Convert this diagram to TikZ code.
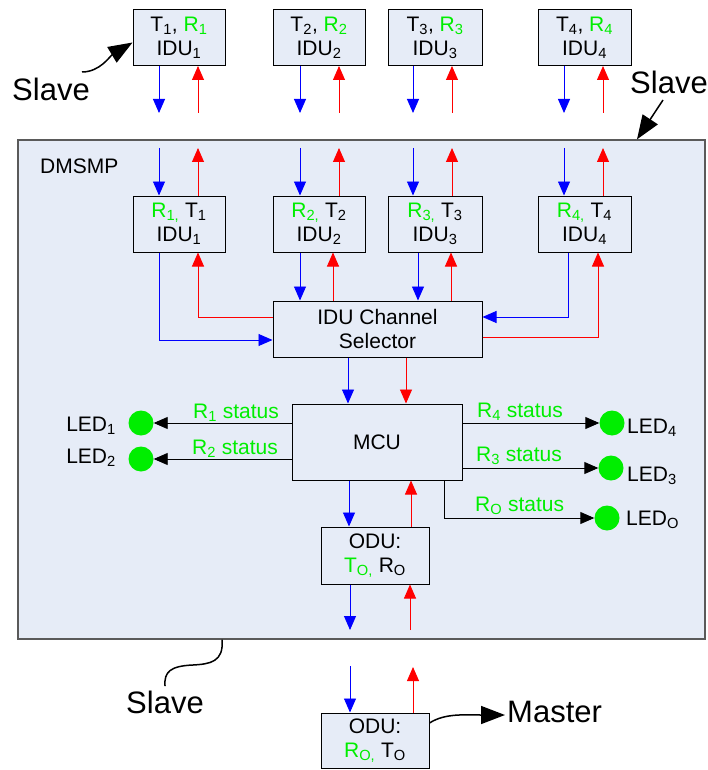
\documentclass[tikz,border=0pt]{standalone}
\usepackage{fontspec}
\setmainfont{Liberation Sans}
\usetikzlibrary{arrows.meta,calc}
\definecolor{boxfill}{RGB}{230,236,247}
\definecolor{ledgreen}{RGB}{0,238,0}
\definecolor{framegray}{RGB}{90,90,90}
\newcommand\sbs[1]{\textsubscript{#1}}
\newcommand\gr[1]{\textcolor{ledgreen}{#1}}
\begin{document}
\begin{tikzpicture}[x=1pt,y=-1pt,
  every node/.style={font=\fontsize{21}{24}\selectfont},
  box/.style={draw=black, line width=1pt, fill=boxfill, inner sep=0pt, align=center, minimum width=92pt, minimum height=56pt},
  arr/.style={-{Triangle[length=14pt,width=12pt]}},
  bigarr/.style={-{Triangle[length=24pt,width=18pt]}},
  conn/.style={line width=0.9pt},
  big/.style={font=\fontsize{31}{36}\selectfont, inner sep=0pt},
  led/.style={circle, fill=ledgreen, minimum size=25pt, inner sep=0pt},
  stat/.style={text=ledgreen, anchor=base west, inner sep=0pt},
  ledlab/.style={anchor=base west, inner sep=0pt}]
\useasboundingbox (0,0) rectangle (708,770);

% main frame
\node[draw=framegray, line width=1.3pt, fill=boxfill, minimum width=687pt, minimum height=499pt, inner sep=0pt] (dm) at (361.5,389.5) {};
\node[anchor=base west, inner sep=0pt] (dmlab) at (40,173) {DMSMP};

% top IDU boxes
\node[box] (t1) at (179,37.5) {T\sbs{1}, \gr{R\sbs{1}}\\IDU\sbs{1}};
\node[box] (t2) at (319,37.5) {T\sbs{2}, \gr{R\sbs{2}}\\IDU\sbs{2}};
\node[box, minimum width=94pt] (t3) at (435,37.5) {T\sbs{3}, \gr{R\sbs{3}}\\IDU\sbs{3}};
\node[box, minimum width=93pt] (t4) at (584.5,37.5) {T\sbs{4}, \gr{R\sbs{4}}\\IDU\sbs{4}};

% inner IDU boxes
\node[box] (i1) at (179,224) {\gr{R\sbs{1,}} T\sbs{1}\\IDU\sbs{1}};
\node[box] (i2) at (319,224) {\gr{R\sbs{2,}} T\sbs{2}\\IDU\sbs{2}};
\node[box, minimum width=94pt] (i3) at (435,224) {\gr{R\sbs{3,}} T\sbs{3}\\IDU\sbs{3}};
\node[box, minimum width=93pt] (i4) at (584.5,224) {\gr{R\sbs{4,}} T\sbs{4}\\IDU\sbs{4}};

% selector, MCU, ODUs
\node[box, minimum width=209pt] (sel) at (377.5,329) {IDU Channel\\Selector};
\node[box, minimum width=170pt, minimum height=76pt] (mcu) at (377,442) {MCU};
\node[box, minimum width=108pt, minimum height=57pt] (odu) at (375,555.5) {ODU:\\\gr{T\sbs{O,}} R\sbs{O}};
\node[box, minimum width=108pt, minimum height=55pt] (o2) at (375,740.5) {ODU:\\\gr{R\sbs{O,}} T\sbs{O}};

% arrows below top boxes
\foreach \n/\bx/\rx in {1/159/198, 2/300/339, 3/413/452, 4/564/603}{
  \coordinate (tb\n) at (\bx,113);
  \coordinate (tr\n) at (\rx,113);
  \draw[conn,blue,arr] (t\n.south -| tb\n) -- (tb\n);
  \draw[conn,red,arr] (tr\n) -- (t\n.south -| tr\n);
  \coordinate (ib\n) at (\bx,148);
  \coordinate (ir\n) at (\rx,148);
  \draw[conn,blue,arr] (ib\n) -- (ib\n |- i\n.north);
  \draw[conn,red,arr] (ir\n |- i\n.north) -- (ir\n);
}

% inner IDUs <-> selector
\coordinate (c1b) at (159,340);
\coordinate (c1r) at (198,317);
\draw[conn,blue,arr] (i1.south -| c1b) |- (sel.west |- c1b);
\draw[conn,red,arr] (sel.west |- c1r) -| (i1.south -| c1r);
\coordinate (c2b) at (300,0);
\coordinate (c2r) at (333,0);
\draw[conn,blue,arr] (i2.south -| c2b) -- (sel.north -| c2b);
\draw[conn,red,arr] (sel.north -| c2r) -- (i2.south -| c2r);
\coordinate (c3b) at (418,0);
\coordinate (c3r) at (451,0);
\draw[conn,blue,arr] (i3.south -| c3b) -- (sel.north -| c3b);
\draw[conn,red,arr] (sel.north -| c3r) -- (i3.south -| c3r);
\coordinate (c4b) at (568,317);
\coordinate (c4r) at (598,337);
\draw[conn,blue,arr] (i4.south -| c4b) |- (sel.east |- c4b);
\draw[conn,red,arr] (sel.east |- c4r) -| (i4.south -| c4r);

% selector -> MCU
\coordinate (m1) at (348,0);
\coordinate (m2) at (406,0);
\draw[conn,blue,arr] (sel.south -| m1) -- (mcu.north -| m1);
\draw[conn,red,arr] (sel.south -| m2) -- (mcu.north -| m2);

% MCU <-> ODU
\coordinate (m3) at (349,0);
\coordinate (m4) at (411,0);
\draw[conn,blue,arr] (mcu.south -| m3) -- (odu.north -| m3);
\draw[conn,red,arr] (odu.north -| m4) -- (mcu.south -| m4);

% ODU out of frame
\coordinate (ob) at (350,630);
\coordinate (or) at (410,630);
\draw[conn,blue,arr] (odu.south -| ob) -- (ob);
\draw[conn,red,arr] (or) -- (odu.south -| or);
\coordinate (pb) at (350,666);
\coordinate (pr) at (413,667);
\draw[conn,blue,arr] (pb) -- (o2.north -| pb);
\draw[conn,red,arr] (o2.north -| pr) -- (pr);

% LEDs
\node[led] (led1) at (141,423) {};
\node[led] (led2) at (141,459) {};
\node[led] (led4) at (612,423) {};
\node[led] (led3) at (611,468) {};
\node[led] (ledo) at (607,518) {};
\node[anchor=base east, inner sep=0pt] (l1) at (116,431) {LED\sbs{1}};
\node[anchor=base east, inner sep=0pt] (l2) at (116,463) {LED\sbs{2}};
\node[ledlab] (l4) at (627,433) {LED\sbs{4}};
\node[ledlab] (l3) at (627,481) {LED\sbs{3}};
\node[ledlab] (lo) at (626,525) {LED\sbs{O}};

\draw[conn,black,arr] (mcu.west |- led1) -- (led1);
\draw[conn,black,arr] (mcu.west |- led2) -- (led2);
\draw[conn,black,arr] (mcu.east |- led4) -- (led4);
\draw[conn,black,arr] (mcu.east |- led3) -- (led3);
\coordinate (ro) at (444,0);
\draw[conn,black,arr] (mcu.south -| ro) |- (ledo);

\node[stat] (s1) at (193,418) {R\sbs{1} status};
\node[stat] (s2) at (192,454) {R\sbs{2} status};
\node[stat] (s4) at (477,417) {R\sbs{4} status};
\node[stat] (s3) at (476,461) {R\sbs{3} status};
\node[stat] (so) at (475,511) {R\sbs{O} status};

% Slave / Master annotations
\node[big] (slave1) at (51,89) {Slave};
\coordinate (sa1) at (82,72);
\draw[line width=1.5pt,bigarr] (sa1) .. controls (100,72) and (110,56) .. ([yshift=-5pt]t1.west);

\node[big] (slave2) at (669,82) {Slave};
\coordinate (sa2) at (663,100);
\coordinate (sa2t) at (637,0);
\draw[line width=1.5pt,bigarr] (sa2) -- (dm.north -| sa2t);

\coordinate (sa3) at (222,0);
\coordinate (sa3e) at (165,686);
\draw[line width=1.5pt] (dm.south -| sa3) .. controls (224,662) and (210,664) .. (193,665) .. controls (170,666) and (164,672) .. (sa3e);
\node[big] (slave3) at (165,702) {Slave};

\coordinate (ma) at (505,715);
\draw[line width=1.5pt,bigarr] ([yshift=17.5pt]o2.east) .. controls (445,713) and (465,715) .. (ma);
\node[big, anchor=west] (master) at (507,712) {Master};
\end{tikzpicture}
\end{document}
